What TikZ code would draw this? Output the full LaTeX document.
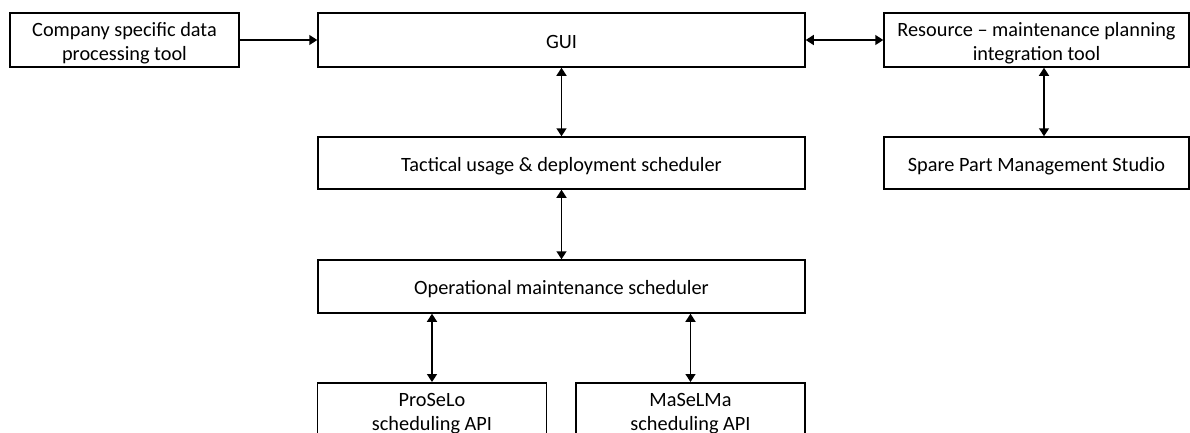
\documentclass[tikz,border=0pt]{standalone}
\usepackage{fontspec}
\setmainfont{Carlito}
\usetikzlibrary{arrows.meta}
\begin{document}
\begin{tikzpicture}[x=1pt,y=-1pt,
  box/.style={draw,line width=1.5pt,inner sep=0pt,align=center,font=\fontsize{20.3}{24}\selectfont},
  one/.style={text height=18pt,text depth=2pt},
  two/.style={text height=40pt,text depth=0pt},
  conn/.style={line width=1.5pt,{Triangle[length=8pt,width=10pt]}-{Triangle[length=8pt,width=10pt]}},
  oneway/.style={line width=1.5pt,-{Triangle[length=8pt,width=10pt]}}]
\useasboundingbox (0,0) rectangle (1190,432);
\node[box,two,minimum width=229pt,minimum height=54pt] (comp) at (124.5,40) {Company specific data\\processing tool};
\node[box,one,minimum width=487pt,minimum height=54pt] (gui) at (561.5,40) {GUI};
\node[box,two,minimum width=305pt,minimum height=54pt] (res) at (1036.5,40) {Resource -- maintenance planning\\integration tool};
\node[box,one,minimum width=487pt,minimum height=52pt] (tac) at (561.5,163) {Tactical usage \& deployment scheduler};
\node[box,one,minimum width=305pt,minimum height=52pt] (spm) at (1036.5,163) {Spare Part Management Studio};
\node[box,one,minimum width=487pt,minimum height=53pt] (ops) at (561.5,286.5) {Operational maintenance scheduler};
\node[box,minimum width=229pt,minimum height=70pt,anchor=north,text height=28pt,text depth=2pt] (pro) at (432,382) {ProSeLo\\scheduling API};
\node[box,minimum width=229pt,minimum height=70pt,anchor=north,text height=28pt,text depth=2pt] (mas) at (690.5,382) {MaSeLMa\\scheduling API};
\draw[oneway] (comp.east) -- (gui.west);
\draw[conn] (gui.east) -- (res.west);
\draw[conn] (gui.south) -- (tac.north);
\draw[conn] (tac.south) -- (ops.north);
\draw[conn] (res.south -| 1044,0) -- (spm.north -| 1044,0);
\draw[conn] (ops.south -| pro.north) -- (pro.north);
\draw[conn] (ops.south -| mas.north) -- (mas.north);
\end{tikzpicture}
\end{document}
